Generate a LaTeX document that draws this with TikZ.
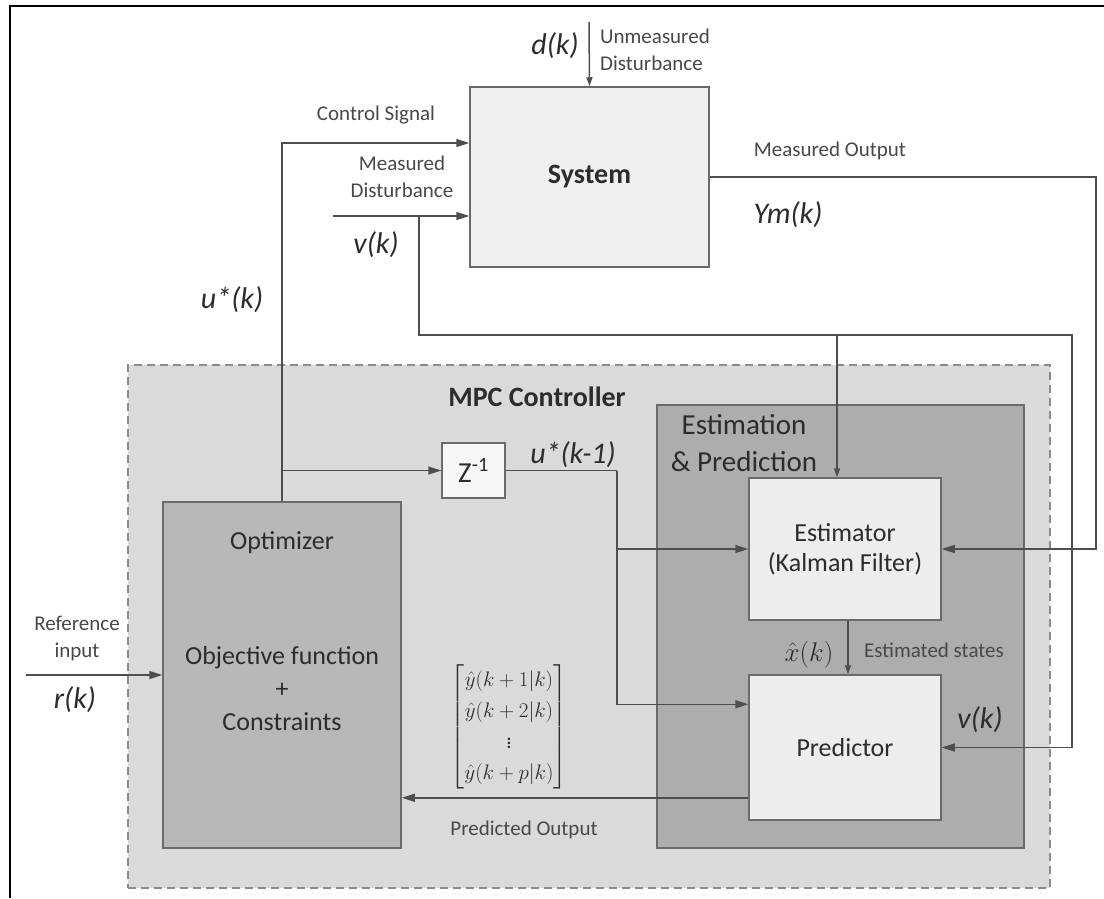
\RequirePackage{fix-cm}
\documentclass[tikz,border=0pt]{standalone}
\usepackage{fontspec}
\setmainfont{Carlito}
\usepackage{amsmath}
\usetikzlibrary{arrows.meta}

\begin{document}
\begin{tikzpicture}[x=1pt, y=-1pt, >={Triangle[length=13pt,width=8pt]},
    box/.style={draw=boxedge, line width=1.5pt, inner sep=0pt},
    sig/.style={draw=sigline, line width=1.5pt, ->},
    wire/.style={draw=sigline, line width=1.5pt},
    small/.style={>={Triangle[length=9pt,width=6pt]}},
    lbl/.style={text=txtgray, font=\fS, align=center, inner sep=0pt},
    var/.style={text=txtdark, font=\fV, inner sep=0pt},
    txt/.style={text=txtdark, font=\fM, align=center, inner sep=0pt}]
    \def\fS{\fontsize{21}{27}\selectfont}
    \def\fM{\fontsize{26}{30}\selectfont}
    \def\fL{\fontsize{29}{37}\selectfont}
    \def\fB{\fontsize{28}{32}\selectfont\bfseries}
    \def\fV{\fontsize{30}{34}\selectfont\itshape}
    \definecolor{boxedge}{HTML}{6A6A6A}
    \definecolor{mpcedge}{HTML}{8C8C8C}
    \definecolor{sigline}{HTML}{4E4E4E}
    \definecolor{txtgray}{HTML}{484848}
    \definecolor{txtdark}{HTML}{2C2C2C}
    \definecolor{sysfill}{HTML}{EFEFEF}
    \definecolor{mpcfill}{HTML}{DADADA}
    \definecolor{optfill}{HTML}{B8B8B8}
    \definecolor{estfill}{HTML}{ADADAD}
    \definecolor{innfill}{HTML}{EDEDED}
    \useasboundingbox[fill=white] (0,0) rectangle (1104,898);
    \draw[line width=1.2pt] (1104,6) -- (10,6) -- (10,898);

    \node[box, draw=mpcedge, dash pattern=on 8pt off 5pt, fill=mpcfill, minimum width=922pt, minimum height=523pt] (mpc) at (589,626.5) {};
    \node[box, fill=optfill, minimum width=238pt, minimum height=346pt] (opt) at (282,675) {};
    \node[box, fill=estfill, minimum width=367pt, minimum height=443pt] (est) at (840.5,626.5) {};
    \node[box, fill=innfill, minimum width=192pt, minimum height=142pt, txt] (kf) at (845,549) {Estimator\\(Kalman Filter)};
    \node[box, fill=innfill, minimum width=192pt, minimum height=145pt, txt] (pred) at (845,747.5) {Predictor};
    \node[box, fill=sysfill, minimum width=239pt, minimum height=180pt, txt, font=\fB] (sys) at (589.5,177) {System};
    \node[box, fill=innfill!50!white, minimum width=63pt, minimum height=55pt, txt, font=\fL] (zbox) at (473.5,470.5) {Z\textsuperscript{-1}};

    \node[txt] (optname) at (282,543) {Optimizer};
    \node[txt] (objfun) at (282,658) {Objective function};
    \node[txt] (plus) at (282,690) {+};
    \node[txt] (cons) at (282,722) {Constraints};
    \node[txt, font=\fB] (mpclab) at (537,397) {MPC Controller};
    \node[txt, font=\fL] (estlab) at (744,443) {Estimation\\\& Prediction};

    \coordinate (dk) at (589,22);
    \coordinate (cs) at (282,143);
    \coordinate (md) at (333,216);
    \coordinate (vj) at (419,216);
    \coordinate (vb) at (419,335);
    \coordinate (vr) at (1072,335);
    \coordinate (mo) at (1096,177);
    \coordinate (zj) at (617,470.5);
    \coordinate (rin) at (26,675);
    \coordinate (kfin) at ([xshift=-8pt]kf.north);
    \coordinate (pin) at ([yshift=-30pt]pred.north west);
    \coordinate (pout) at ([yshift=23pt]pred.south west);

    \draw[sig, small] (dk) -- (sys.north);
    \draw[sig] (opt.north) -- (cs) -- (cs -| sys.west);
    \draw[sig] (opt.north |- zbox.west) -- (zbox.west);
    \draw[sig] (md) -- (md -| sys.west);
    \draw[sig] (vj) -- (vb) -- (vr) |- (pred.east);
    \draw[sig, small] (kfin |- vb) -- (kfin);
    \draw[sig] (sys.east) -- (mo) |- (kf.east);
    \draw[wire] (zbox.east) -- (zj);
    \draw[sig] (zj) |- (kf.west);
    \draw[sig] (zj) |- (pin);
    \draw[sig] (pout) -- (pout -| opt.east);
    \draw[sig, small] ([xshift=3pt]kf.south) -- ([xshift=3pt]pred.north);
    \draw[sig] (rin) -- (opt.west);

    \node[var] (dlab) at (555,46) {d(k)};
    \node[lbl, align=left, anchor=west] (udist) at (600,50) {Unmeasured\\Disturbance};
    \node[lbl] (cslab) at (376,115) {Control Signal};
    \node[lbl] (mdlab) at (402,177) {Measured\\Disturbance};
    \node[var] (vlab) at (376,245) {v(k)};
    \node[var] (ulab) at (232,300) {u*(k)};
    \node[lbl] (molab) at (830,151) {Measured Output};
    \node[var] (ymlab) at (788,215) {Ym(k)};
    \node[var] (u1lab) at (573,455) {u*(k-1)};
    \node[lbl] (reflab) at (77,638) {Reference\\input};
    \node[var] (rlab) at (75,700) {r(k)};
    \node[text=txtdark, font=\fontsize{21}{31}\selectfont, inner sep=0pt] (yvec) at (509,727)
      {$\begin{bmatrix}\hat{y}(k+1|k)\\ \hat{y}(k+2|k)\\ \vdots\\ \hat{y}(k+p|k)\end{bmatrix}$};
    \node[lbl] (polab) at (524,830) {Predicted Output};
    \node[text=txtdark, font=\fontsize{27}{30}\selectfont, inner sep=0pt] (xhat) at (809,655) {$\hat{x}(k)$};
    \node[lbl] (eslab) at (934,650) {Estimated states};
    \node[var] (v2lab) at (980,720) {v(k)};
\end{tikzpicture}
\end{document}
